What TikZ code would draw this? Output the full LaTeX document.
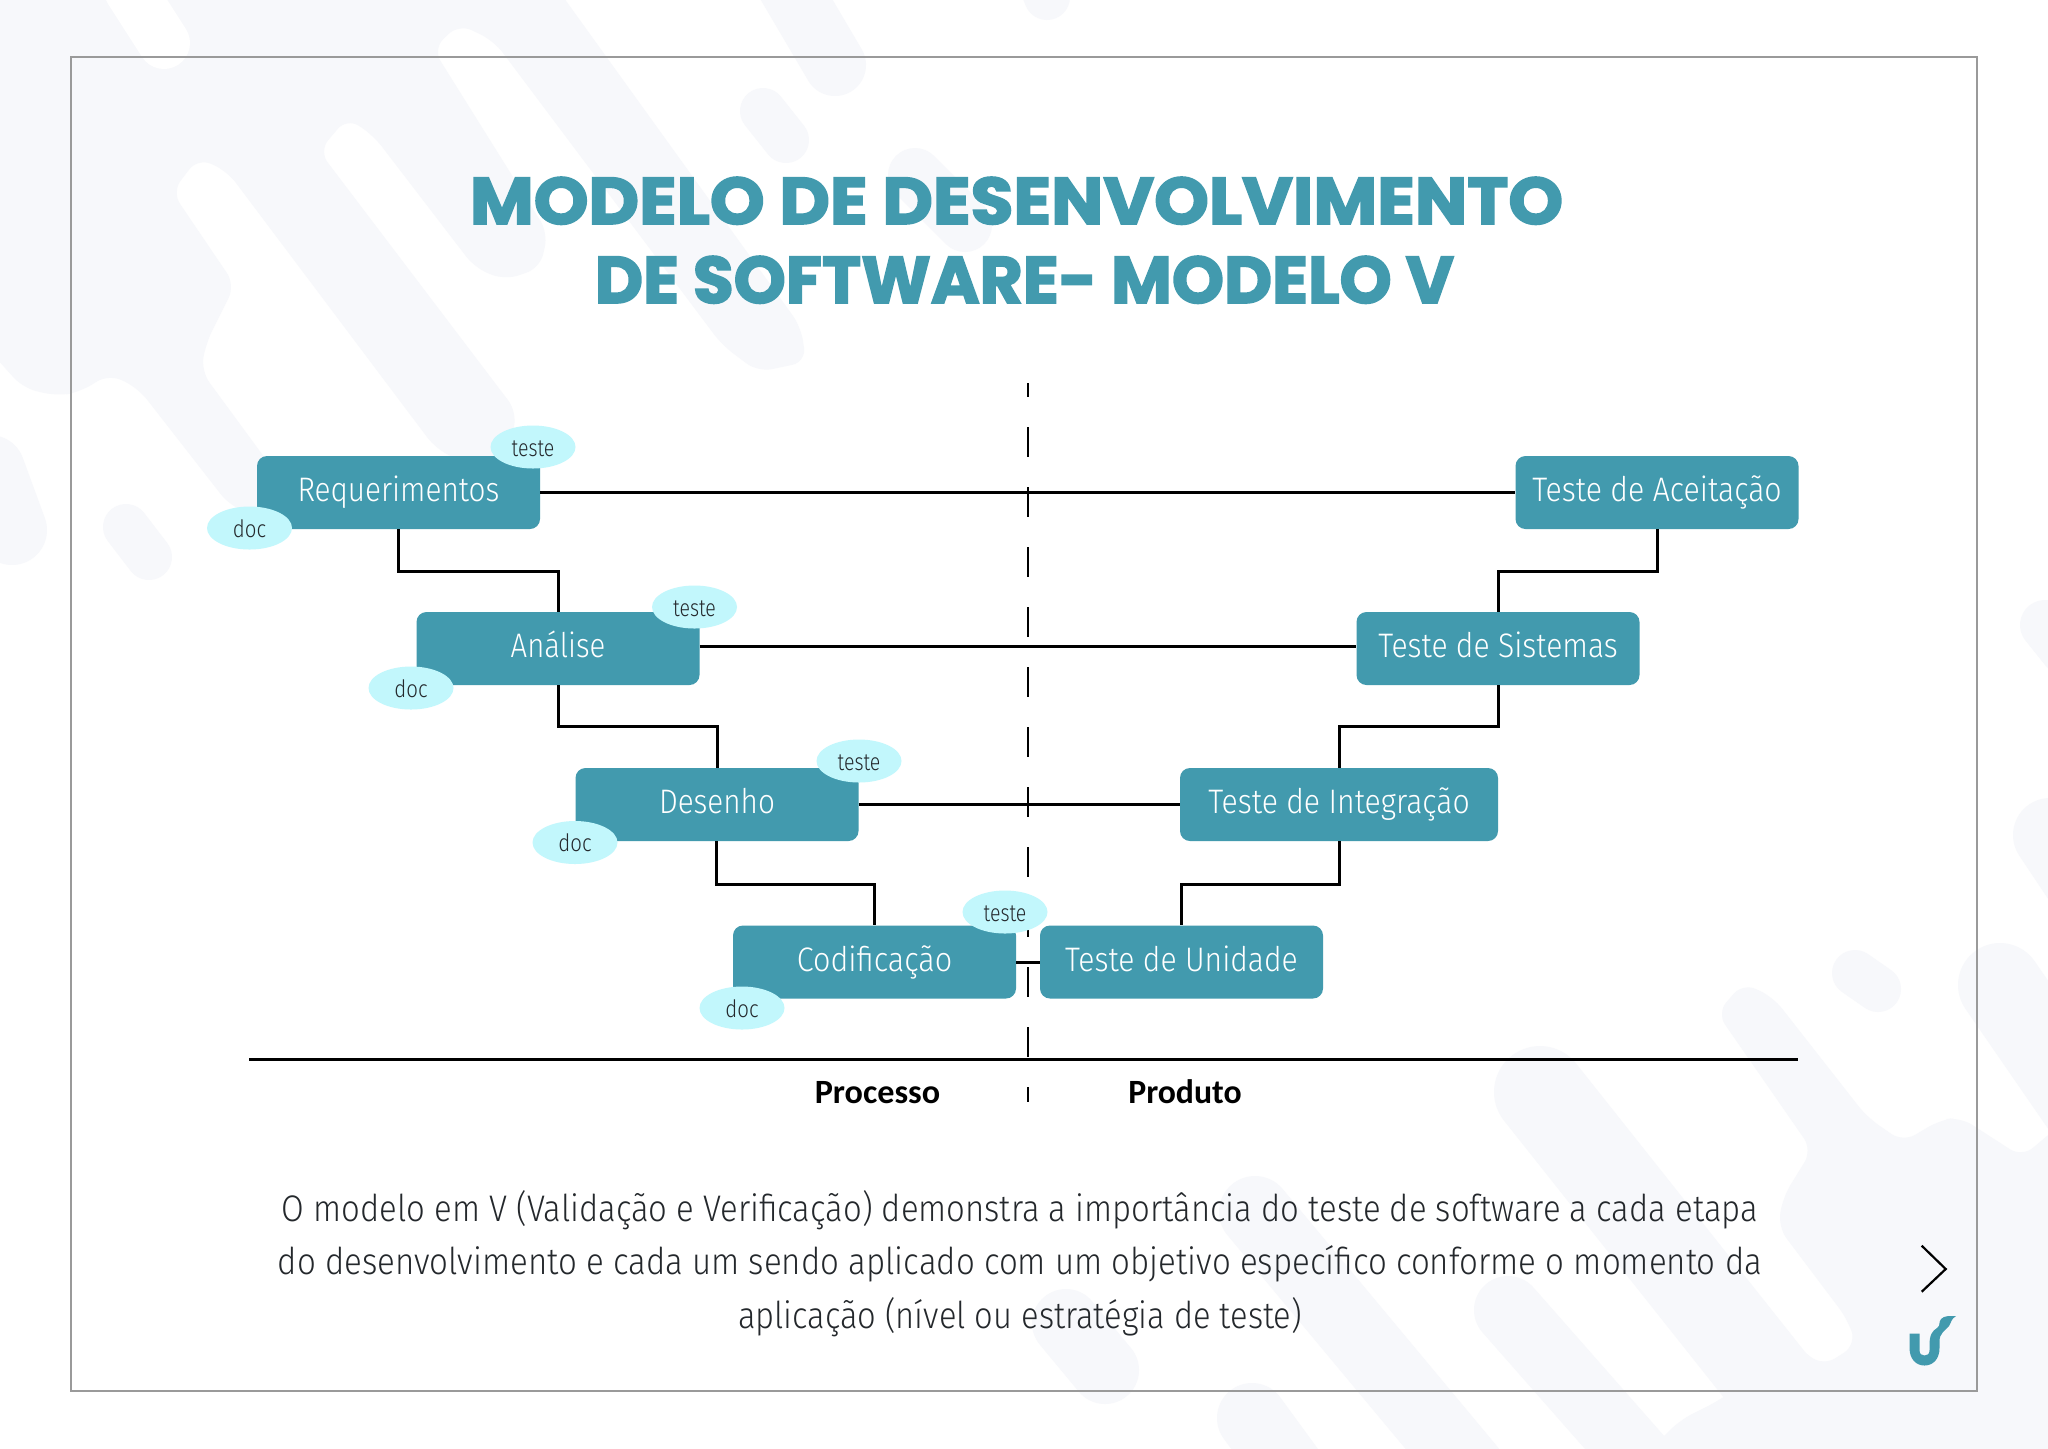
\documentclass[tikz,border=0pt]{standalone}
\usepackage{fontspec}
\usepackage{graphicx}
\usetikzlibrary{shapes.geometric}
\newfontfamily\lightf{Fira Sans Light}
\newfontfamily\labelf{Carlito}
\newfontfamily\titlef{Poppins}[FakeBold=2.5]
\definecolor{vteal}{HTML}{429AAE}
\definecolor{vcyan}{HTML}{C2F7FC}
\definecolor{vbg}{HTML}{F7F8FB}
\definecolor{vframe}{HTML}{9A9A9A}
\definecolor{vtext}{HTML}{24282C}
\newcommand\fitw[2]{\resizebox{#1}{\height}{#2}}
\tikzset{
  vbox/.style={fill=vteal,rounded corners=5pt,minimum width=141.5pt,minimum height=36.5pt,inner sep=0pt,
    text height=12.8pt,text depth=3.4pt,text=white,font=\lightf\fontsize{17}{17}\selectfont},
  tag/.style={ellipse,fill=vcyan,minimum width=42.5pt,minimum height=21.5pt,inner sep=0pt,
    text height=9.4pt,text depth=0.4pt,text=vtext,font=\lightf\fontsize{12}{12}\selectfont},
  wire/.style={draw=black,line width=1.5pt,line join=miter},
  bodyline/.style={anchor=base,inner sep=0pt,text=vtext,font=\lightf\fontsize{18.5}{18.5}\selectfont},
  sidelabel/.style={anchor=base,inner sep=0pt,text=black,font=\labelf\bfseries\fontsize{17}{17}\selectfont},
  titleline/.style={anchor=base,inner sep=0pt,text=vteal},
  bgblob/.style={fill=vbg,rounded corners=7pt},
  bgstroke/.style={draw=vbg,line cap=round}
}
\begin{document}
\begin{tikzpicture}[x=0.5pt,y=-0.5pt]
\useasboundingbox (0,0) rectangle (2048,1448);
\fill[white] (0,0) rectangle (2048,1448);
\begin{scope}
\clip (0,0) rectangle (2048,1448);
% top-left blob
\fill[bgblob] (-20,-20) -- (551,-20) -- (801,327) -- (806,362) -- (758,372) -- (722,345) -- (494,41) -- (459,24) -- (433,49) -- (548,233) -- (540,268) -- (505,280) -- (475,268) -- (373,135) -- (347,118) -- (319,151) -- (517,412) -- (510,445) -- (480,470) -- (436,449) -- (227,171) -- (198,158) -- (172,192) -- (235,285) -- (206,343) -- (201,371) -- (270,465) -- (270,520) -- (230,506) -- (138,388) -- (109,374) -- (80,392) -- (57,396) -- (23,388) -- (-20,340) -- cycle;
\draw[draw=white,line cap=round,line width=26pt] (130,-10) -- (164,43);
\draw[bgstroke,line width=35pt] (-10,470) -- (12,530);
\draw[bgstroke,line width=23pt] (126,527) -- (149,557);
% top middle
\draw[bgstroke,line width=31pt] (785,-20) -- (835,65);
\draw[bgstroke,line width=23pt] (763,111) -- (786,140);
\draw[bgstroke,line width=23pt] (1040,-20) -- (1047,-3);
\draw[bgstroke,line width=27pt] (915,175) -- (965,225);
% right side
\draw[bgstroke,line width=25pt] (2045,625) -- (2065,650);
\draw[bgstroke,line width=37pt] (2050,835) -- (2080,880);
\draw[bgstroke,line width=23pt] (1855,973) -- (1878,989);
\draw[bgstroke,line width=42pt] (2000,985) -- (2100,1130);
% bottom-right blob
\fill[bgblob] (1717,1013) -- (1743,983) -- (1773,997) -- (1867,1117) -- (1903,1142) -- (1940,1120) -- (1960,1117) -- (2022,1157) -- (2060,1125) -- (2060,1460) -- (1640,1460) -- (1680,1420) -- (1720,1400) -- (1795,1345) -- (1823,1366) -- (1856,1345) -- (1848,1320) -- (1778,1227) -- (1783,1197) -- (1812,1150) -- cycle;
\draw[bgstroke,line width=46pt] (1540,1092) -- (1790,1407);
\draw[bgstroke,line width=36pt] (1255,1212) -- (1470,1470);
\draw[bgstroke,line width=34pt] (1508,1310) -- (1640,1460);
\draw[bgstroke,line width=34pt] (1066,1323) -- (1105,1370);
\draw[bgstroke,line width=35pt] (1252,1418) -- (1290,1470);
\end{scope}
% frame
\draw[draw=vframe,line width=1pt] (70.5,57) rectangle (1977,1391);
% title
\node[titleline] (t1) at (1016.5,224) {\resizebox{546.5pt}{23.5pt}{\titlef\bfseries MODELO DE DESENVOLVIMENTO}};
\node[titleline] (t2) at (1024.5,303) {\resizebox{429.5pt}{23.5pt}{\titlef\bfseries DE SOFTWARE- MODELO V}};
% centre divider
\coordinate (divtop) at (1028,383);
\coordinate (divbot) at (1028,1102);
\draw[line width=1.2pt,dash pattern=on 15pt off 15pt,dash phase=8pt] (divtop) -- (divbot);
% boxes
\node[vbox] (req) at (398.5,492.5) {\fitw{101pt}{Requerimentos}};
\node[vbox] (ana) at (558,648.5) {\fitw{47.3pt}{Análise}};
\node[vbox] (des) at (717,804.5) {\fitw{58pt}{Desenho}};
\node[vbox] (cod) at (874.5,962) {\fitw{77.7pt}{Codificação}};
\node[vbox] (uni) at (1181.5,962) {\fitw{116.3pt}{Teste de Unidade}};
\node[vbox,minimum width=159pt] (int) at (1339,804.5) {\fitw{130.7pt}{Teste de Integração}};
\node[vbox] (sis) at (1498,648.5) {\fitw{119.7pt}{Teste de Sistemas}};
\node[vbox] (ace) at (1657,492.5) {\fitw{124.7pt}{Teste de Aceitação}};
% tags
\node[tag] (treq) at (533,447) {\fitw{21.4pt}{teste}};
\node[tag] (dreq) at (249.5,528) {\fitw{16.6pt}{doc}};
\node[tag] (tana) at (694.5,607) {\fitw{21.4pt}{teste}};
\node[tag] (dana) at (411,688) {\fitw{16.6pt}{doc}};
\node[tag] (tdes) at (859,761) {\fitw{21.4pt}{teste}};
\node[tag] (ddes) at (575,842.5) {\fitw{16.6pt}{doc}};
\node[tag] (tcod) at (1005,912) {\fitw{21.4pt}{teste}};
\node[tag] (dcod) at (742,1008) {\fitw{16.6pt}{doc}};
% connectors
\draw[wire] (req.south) -- (req.south |- 0,571) -- (ana.north |- 0,571) -- (ana.north);
\draw[wire] (ana.south) -- (ana.south |- 0,726) -- (des.north |- 0,726) -- (des.north);
\draw[wire] ([xshift=-0.5pt]des.south) -- ([xshift=-0.5pt]des.south |- 0,884) -- (cod.north |- 0,884) -- (cod.north);
\draw[wire] (ace.south) -- (ace.south |- 0,571) -- (sis.north |- 0,571) -- (sis.north);
\draw[wire] (sis.south) -- (sis.south |- 0,726) -- (int.north |- 0,726) -- (int.north);
\draw[wire] (int.south) -- (int.south |- 0,884) -- (uni.north |- 0,884) -- (uni.north);
\draw[wire] (req.east) -- (ace.west);
\draw[wire] ([yshift=1.25pt]ana.east) -- ([yshift=1.25pt]sis.west);
\draw[wire] (des.east) -- (int.west);
\draw[wire] (cod.east) -- (uni.west);
% baseline
\coordinate (basel) at (249,1059.5);
\coordinate (baser) at (1798,1059.5);
\draw[line width=1.6pt] (basel) -- (baser);
% labels
\node[sidelabel] (lproc) at (877.5,1103) {\fitw{62.7pt}{Processo}};
\node[sidelabel] (lprod) at (1185,1103) {\fitw{56.7pt}{Produto}};
% body
\node[bodyline] (b1) at (1020,1221.5) {\fitw{738pt}{O modelo em V (Validação e Verificação) demonstra a importância do teste de software a cada etapa}};
\node[bodyline] (b2) at (1020,1274.5) {\fitw{742pt}{do desenvolvimento e cada um sendo aplicado com um objetivo específico conforme o momento da}};
\node[bodyline] (b3) at (1020,1328.5) {\fitw{282pt}{aplicação (nível ou estratégia de teste)}};
% next arrow
\draw[line width=1.1pt,line join=miter] (1921.7,1245.7) -- (1945.7,1269) -- (1921.7,1291.7);
% logo
\fill[vteal] (1909.5,1333.5) -- (1909.5,1348) .. controls (1909.5,1359) and (1916,1365.5) .. (1924.5,1365.5) .. controls (1933,1365.5) and (1939.5,1359) .. (1939.5,1348) -- (1939.5,1341) .. controls (1939.5,1333) and (1945,1331) .. (1949,1326) .. controls (1951.5,1322) and (1951,1319) .. (1956,1316) .. controls (1950,1316) and (1944,1315.5) .. (1941,1319) .. controls (1938,1323) and (1941,1325) .. (1937,1328) .. controls (1932,1331) and (1929.5,1335) .. (1929.5,1345) -- (1929.5,1350) .. controls (1929.5,1354) and (1927.5,1355.5) .. (1924.5,1355.5) .. controls (1921.5,1355.5) and (1919.5,1354) .. (1919.5,1350) -- (1919.5,1333.5) -- cycle;
\end{tikzpicture}
\end{document}
